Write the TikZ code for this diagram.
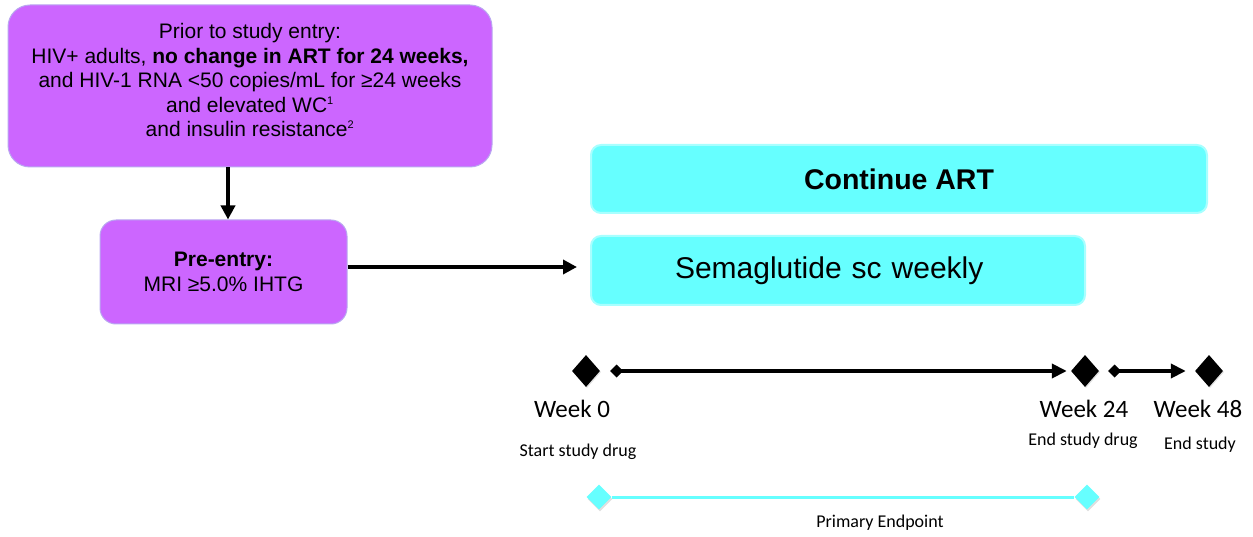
\documentclass[tikz,border=0pt]{standalone}
\usepackage{fontspec}
\setmainfont{Liberation Sans}
\newfontfamily\calfont{Carlito}
\usetikzlibrary{positioning,arrows.meta,shapes.geometric,shadows}
\definecolor{violetfill}{HTML}{CC66FF}
\definecolor{violetline}{HTML}{B9A8F0}
\definecolor{cyanfill}{HTML}{66FFFF}
\definecolor{cyanline}{HTML}{A8FFFF}
\newcommand{\smallsup}[1]{\textsuperscript{\fontsize{11}{12}\selectfont #1}}
\tikzset{
  flowarrow/.style={-{Triangle[length=14pt, width=14pt]}, line width=4.5pt},
  weekarrow/.style={{Diamond[length=13pt, width=13pt]}-{Triangle[length=15pt, width=14pt]}, line width=4.5pt},
  screenbox/.style={draw=violetline, line width=1pt, rounded corners=22pt, fill=violetfill, align=center, inner sep=0pt},
  armbox/.style={draw=cyanline, line width=2pt, rounded corners=10pt, fill=cyanfill, align=center, inner sep=0pt},
  weekmark/.style={diamond, fill=black, inner sep=0pt, minimum width=28pt, minimum height=32pt, drop shadow={opacity=0.25, shadow xshift=1pt, shadow yshift=-1pt}},
  endmark/.style={diamond, fill=cyanfill, inner sep=0pt, minimum width=25pt, minimum height=25pt, drop shadow={opacity=0.25, shadow xshift=1pt, shadow yshift=-2pt}},
  weeklabel/.style={font=\calfont\fontsize{25}{28}\selectfont},
  eventlabel/.style={font=\calfont\fontsize{18}{21}\selectfont}
}
\begin{document}
\begin{tikzpicture}[x=1pt, y=-1pt]
  \useasboundingbox (0,0) rectangle (1253,537);
  % screening boxes
  \node[screenbox, minimum width=484pt, minimum height=162pt] (prior) at (250,86) {};
  \node[font=\fontsize{21}{24.5}\selectfont, align=center, inner sep=0pt] (priortext) at (250,80)
    {Prior to study entry:\\
     HIV+ adults, \textbf{no change in ART for 24 weeks,}\\
     and HIV-1 RNA <50 copies/mL for ≥24 weeks\\
     and elevated WC\smallsup{1}\\
     and insulin resistance\smallsup{2}};
  \node[screenbox, rounded corners=16pt, minimum width=247pt, minimum height=104pt, font=\fontsize{21}{25}\selectfont] (preentry) at (223.5,272)
    {\textbf{Pre-entry:}\\ MRI ≥5.0\% IHTG};
  % treatment arms
  \node[armbox, minimum width=616pt, minimum height=68pt, font=\bfseries\fontsize{28.5}{32}\selectfont] (contart) at (899,179) {Continue ART};
  \node[armbox, minimum width=494pt, minimum height=69pt, font=\fontsize{30}{34}\selectfont, text width=494pt, align=left] (sema) at (838,270.5) {\hspace*{84pt}Semaglutide sc weekly};
  \draw[flowarrow] ([xshift=4.5pt]preentry.north |- prior.south) -- ([xshift=4.5pt]preentry.north);
  \draw[flowarrow, shorten >=13pt] ([yshift=5pt]preentry.east) -- ([yshift=5pt]sema.west |- preentry.east);
  % timeline
  \node[weekmark] (wk0) at (586,371) {};
  \node[weekmark] (wk24) at (1085,371) {};
  \node[weekmark] (wk48) at (1209,371) {};
  \draw[weekarrow, shorten <=10pt, shorten >=4pt] (wk0.east) -- (wk24.west);
  \draw[weekarrow, shorten <=9pt, shorten >=9pt] (wk24.east) -- (wk48.west);
  \node[weeklabel] (wk0lab) at (572,409) {Week 0};
  \node[weeklabel] (wk24lab) at (1084,409) {Week 24};
  \node[weeklabel] (wk48lab) at (1198,409) {Week 48};
  \node[eventlabel] (wk0ev) at (578,452) {Start study drug};
  \node[eventlabel] (wk24ev) at (1083,441) {End study drug};
  \node[eventlabel] (wk48ev) at (1200,445) {End study};
  % primary endpoint
  \node[endmark] (pe0) at (599,497) {};
  \node[endmark] (pe24) at (1087,497) {};
  \draw[cyanfill, line width=3pt] (pe0) -- (pe24);
  \node[eventlabel] (pelab) at (880,523) {Primary Endpoint};
\end{tikzpicture}
\end{document}
